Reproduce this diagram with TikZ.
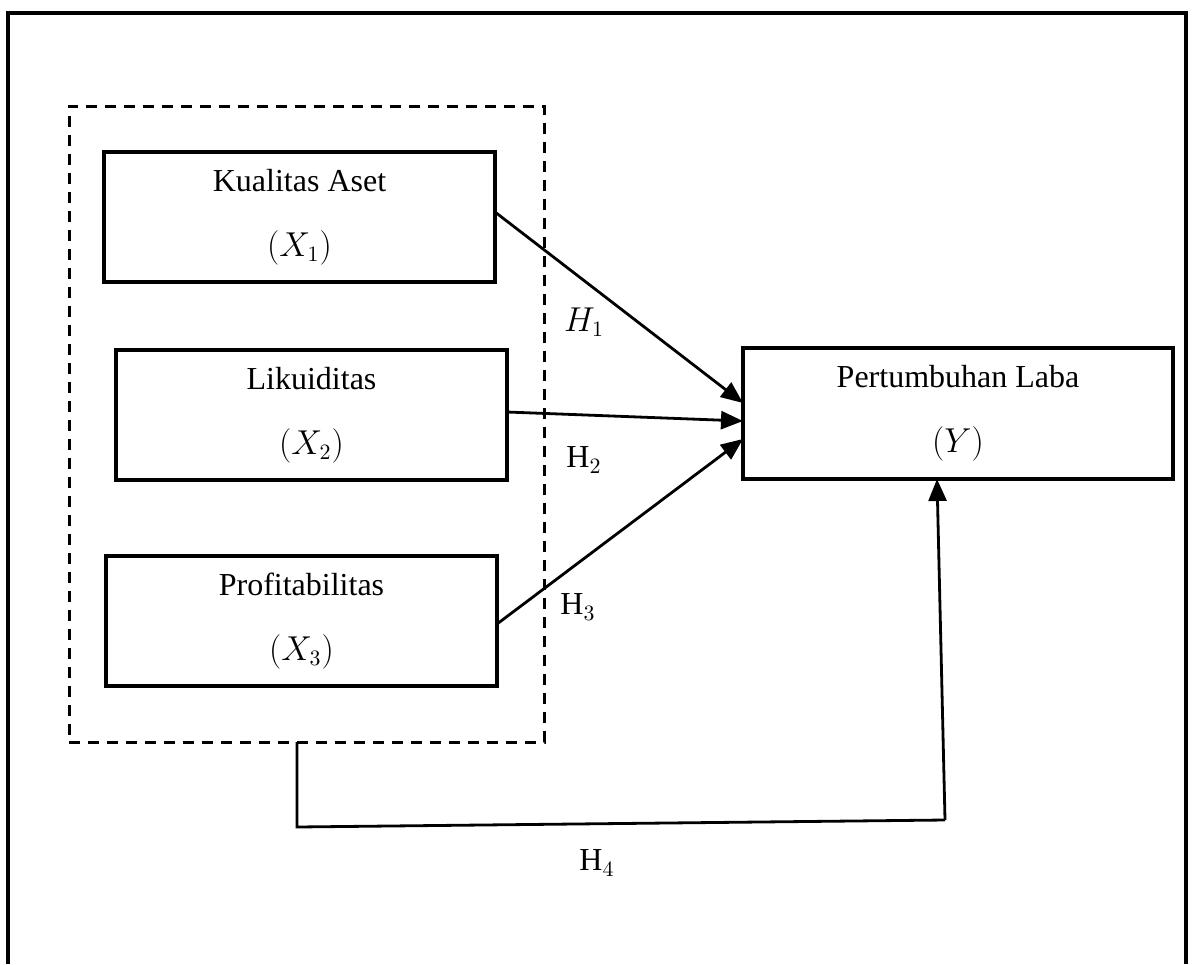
\documentclass[tikz,border=0pt]{standalone}
\usepackage{fontspec}
\setmainfont{Liberation Serif}
\usetikzlibrary{arrows.meta}
\begin{document}
\begin{tikzpicture}[x=0.5pt,y=-0.5pt,
  every node/.style={font=\fontsize{16}{32.5}\selectfont},
  varbox/.style={draw,line width=1.6pt,inner sep=0pt,outer sep=0pt,align=center,
     minimum width=195.5pt,minimum height=65pt},
  grpbox/.style={draw,line width=1.5pt,dash pattern=on 5.5pt off 4pt,inner sep=0pt,outer sep=0pt,
     minimum width=237.5pt,minimum height=318pt},
  conn/.style={line width=1.4pt,-{Triangle[length=11pt,width=9pt]}},
  link/.style={line width=1.4pt},
  frame/.style={line width=1.6pt},
  hlabel/.style={inner sep=0pt}]
\useasboundingbox (0,0) rectangle (1193,964);
% outer frame (open at the bottom)
\draw[frame] (8,964) -- (8,13) -- (1186,13) -- (1186,964);
% group
\node[grpbox] (grp) at (306.5,424) {};
% variable boxes
\node[varbox] (b1) at (299.5,217) {Kualitas Aset\\[0pt]$(X_1)$};
\node[varbox] (b2) at (311.5,415) {Likuiditas\\[0pt]$(X_2)$};
\node[varbox] (b3) at (301.5,621) {Profitabilitas\\[0pt]$(X_3)$};
\node[varbox,minimum width=215pt,minimum height=65.5pt] (y) at (958,413.5) {Pertumbuhan Laba\\[0pt]$(Y)$};
% connectors
\draw[conn] ([yshift=2.5pt]b1.east) -- ([yshift=5.25pt]y.west);
\draw[conn] ([yshift=1.5pt]b2.east) -- ([yshift=-3.75pt]y.west);
\draw[conn] ([yshift=-1.5pt]b3.east) -- ([yshift=-12.75pt]y.west);
\coordinate (c1) at (297,827);
\coordinate (c2) at (945,820);
\draw[link] ([xshift=-4.75pt]grp.south) -- (c1) -- (c2);
\draw[conn] (c2) -- ([xshift=-10.5pt]y.south);
% labels
\node[hlabel] (h1) at (584,322) {$H_1$};
\node[hlabel] (h2) at (584,460) {$\mathrm{H}_2$};
\node[hlabel] (h3) at (578,607) {$\mathrm{H}_3$};
\node[hlabel] (h4) at (597,863) {$\mathrm{H}_4$};
\end{tikzpicture}
\end{document}
